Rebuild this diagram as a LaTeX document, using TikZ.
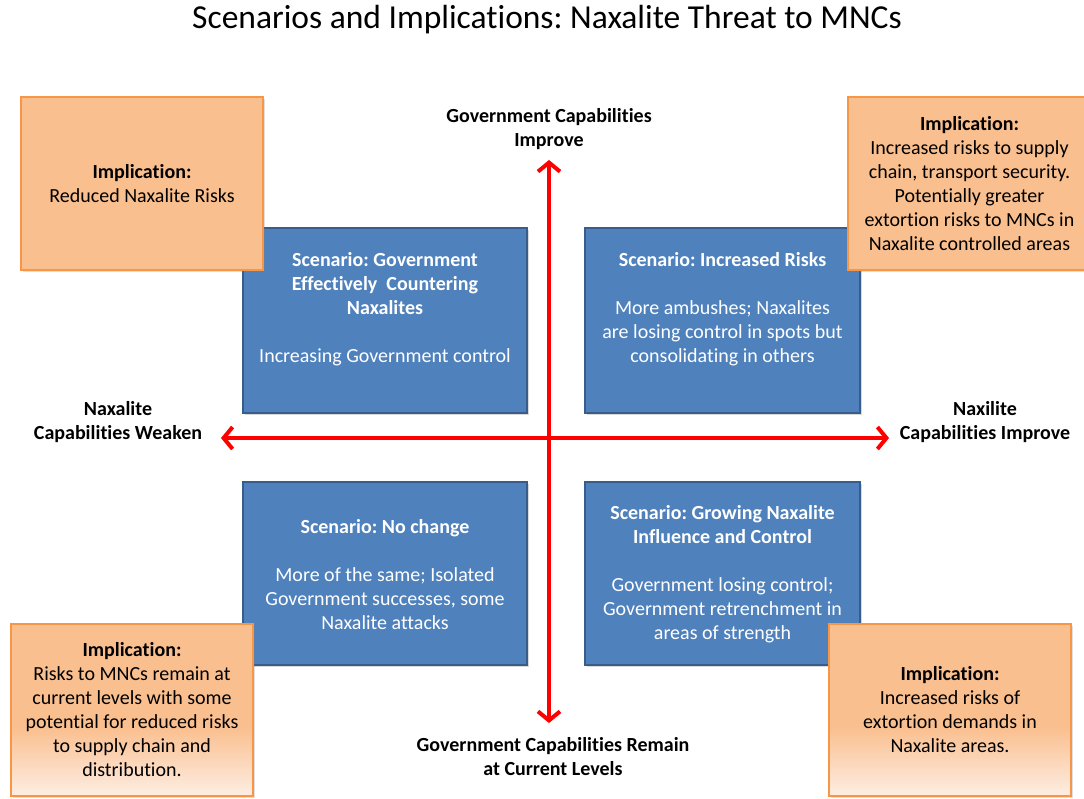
\documentclass[tikz,border=0pt]{standalone}
\usepackage{fontspec}
\setmainfont{Carlito}[Ligatures=NoCommon]
\usetikzlibrary{arrows.meta, positioning, shadows}
\definecolor{orfill}{HTML}{FABF8F}
\definecolor{orline}{HTML}{F79646}
\definecolor{orlight}{HTML}{FDEEE3}
\definecolor{blfill}{HTML}{4F81BD}
\definecolor{blline}{HTML}{385D8A}
\pgfdeclareverticalshading{implfade}{100bp}{color(0bp)=(orlight); color(25bp)=(orlight); color(45bp)=(orfill); color(100bp)=(orfill)}
\frenchspacing

\begin{document}
\begin{tikzpicture}[x=1pt, y=-1pt,
  txt/.style={font=\fontsize{20}{24}\selectfont, align=center, inner sep=0pt},
  axislabel/.style={txt, font=\fontsize{20}{24}\selectfont\bfseries},
  scenbox/.style={draw=blline, line width=2.2pt, fill=blfill, inner sep=0pt,
    drop shadow={shadow xshift=2pt, shadow yshift=-2pt, opacity=0.3}},
  scentext/.style={txt, text=white},
  implbox/.style={txt, draw=orline, line width=1.2pt, fill=orfill, minimum width=242pt, minimum height=173pt,
    drop shadow={shadow xshift=2pt, shadow yshift=-2pt, opacity=0.25}},
  implfaded/.style={implbox, shading=implfade},
  axisarrow/.style={draw=red, line width=4pt, {Straight Barb[length=9pt,width=22pt]}-{Straight Barb[length=9pt,width=22pt]}}
]
\useasboundingbox (0,0) rectangle (1084,798);

\node[font=\fontsize{33.5}{38}\selectfont, inner sep=0pt] (title) at (547,20) {Scenarios and Implications: Naxalite Threat to MNCs};

\node[scenbox, minimum width=284pt, minimum height=185pt] (sTL) at (385,320.5) {};
\node[scenbox, minimum width=275pt, minimum height=185pt] (sTR) at (722.5,320.5) {};
\node[scenbox, minimum width=284pt, minimum height=183pt] (sBL) at (385,573.5) {};
\node[scenbox, minimum width=275pt, minimum height=183pt] (sBR) at (722.5,573.5) {};

\node[scentext] (tTL) at (385,309) {\textbf{Scenario: Government}\\\textbf{Effectively\ \ Countering}\\\textbf{Naxalites}\\[24pt]Increasing Government control};
\node[scentext] (tTR) at (722.5,309) {\textbf{Scenario: Increased Risks}\\[24pt]More ambushes; Naxalites\\are losing control in spots but\\consolidating in others};
\node[scentext] (tBL) at (385,574.5) {\textbf{Scenario: No change}\\[24pt]More of the same; Isolated\\Government successes, some\\Naxalite attacks};
\node[scentext] (tBR) at (722.5,574.5) {\textbf{Scenario: Growing Naxalite}\\\textbf{Influence and Control}\\[24pt]Government losing control;\\Government retrenchment in\\areas of strength};

\coordinate (vtop) at (549,160);
\coordinate (vbot) at (549,723);
\coordinate (hleft) at (221,438);
\coordinate (hright) at (889,438);
\draw[axisarrow] (vbot) -- (vtop);
\draw[axisarrow] (hleft) -- (hright);

\node[axislabel] (gImprove) at (549,129) {Government Capabilities\\Improve};
\node[axislabel] (nWeaken) at (118,422) {Naxalite\\Capabilities Weaken};
\node[axislabel] (nImprove) at (985,422) {Naxilite\\Capabilities Improve};
\node[axislabel] (gRemain) at (553,757) {Government Capabilities Remain\\at Current Levels};

\node[implbox] (iTL) at (142,183.5) {\textbf{Implication:}\\Reduced Naxalite Risks};
\node[implbox, minimum width=243pt] (iTR) at (969.5,183.5) {\textbf{Implication:}\\Increased risks to supply\\chain, transport security.\\Potentially greater\\extortion risks to MNCs in\\Naxalite controlled areas};
\node[implfaded, minimum height=172pt] (iBL) at (132,710) {\textbf{Implication:}\\Risks to MNCs remain at\\current levels with some\\potential for reduced risks\\to supply chain and\\distribution.};
\node[implfaded, minimum height=172pt] (iBR) at (950,710) {\textbf{Implication:}\\Increased risks of\\extortion demands in\\Naxalite areas.};
\end{tikzpicture}
\end{document}
